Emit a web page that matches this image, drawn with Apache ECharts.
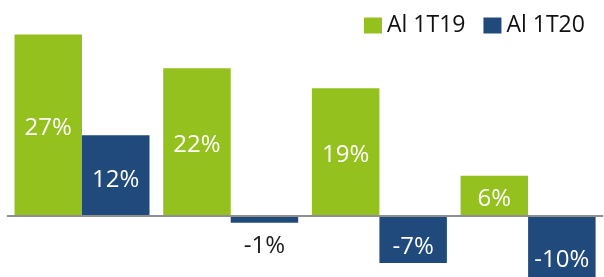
<!DOCTYPE html>
<html>
<head>
<meta charset="utf-8">
<script src="https://cdn.jsdelivr.net/npm/echarts@6/dist/echarts.min.js"></script>
<style>
html,body{margin:0;padding:0;background:#fff;}
#c{width:604px;height:277px;}
</style>
</head>
<body>
<div id="c"></div>
<script>
var categories = ['G1', 'G2', 'G3', 'G4'];
var seriesNames = ['Al 1T19', 'Al 1T20'];
var values1T19 = [27, 22, 19, 6];
var values1T20 = [12, -1, -7, -10];

var GREEN = '#95c11f';
var BLUE = '#214a7c';
var FONT = 'Open Sans';

function labelFor(v) {
  if (v === -1) {
    return { position: 'inside', offset: [0, 27], color: '#1a1a1a' };
  }
  if (v === -7) return { offset: [0, 8] };
  if (v === -10) return { offset: [0, 11] };
  if (v === 12) return { offset: [0, 4] };
  return { offset: [0, 3] };
}

var chart = echarts.init(document.getElementById('c'), null, { renderer: 'canvas' });
chart.setOption({
  animation: false,
  backgroundColor: '#fff',
  textStyle: { fontFamily: FONT },
  legend: {
    left: 364, top: 14, padding: 0,
    itemWidth: 18, itemHeight: 16, itemGap: 18,
    icon: 'rect',
    textStyle: { fontFamily: FONT, fontSize: 23, color: '#111' },
    data: seriesNames
  },
  grid: { left: 7.65, width: 594.8, top: 14.4, height: 268.8, containLabel: false, outerBoundsMode: 'none' },
  xAxis: {
    type: 'category', data: categories, z: 5,
    axisLine: { show: true, onZero: true, lineStyle: { color: '#8f8f8f', width: 2 } },
    axisTick: { show: false }, axisLabel: { show: false }, splitLine: { show: false }
  },
  yAxis: {
    type: 'value', min: -10, max: 30, show: false, splitLine: { show: false }
  },
  series: [
    {
      name: seriesNames[0], type: 'bar', barWidth: 67.5, barGap: '0%',
      itemStyle: { color: GREEN },
      label: { show: true, position: 'inside', color: '#fff', fontFamily: FONT, fontSize: 24, formatter: '{c}%' },
      data: values1T19.map(function (v) { return { value: v, label: labelFor(v) }; })
    },
    {
      name: seriesNames[1], type: 'bar', barWidth: 67.5, barGap: '0%',
      itemStyle: { color: BLUE },
      label: { show: true, position: 'inside', color: '#fff', fontFamily: FONT, fontSize: 24, formatter: '{c}%' },
      data: values1T20.map(function (v) { return { value: v, label: labelFor(v) }; })
    }
  ]
});
</script>
</body>
</html>
